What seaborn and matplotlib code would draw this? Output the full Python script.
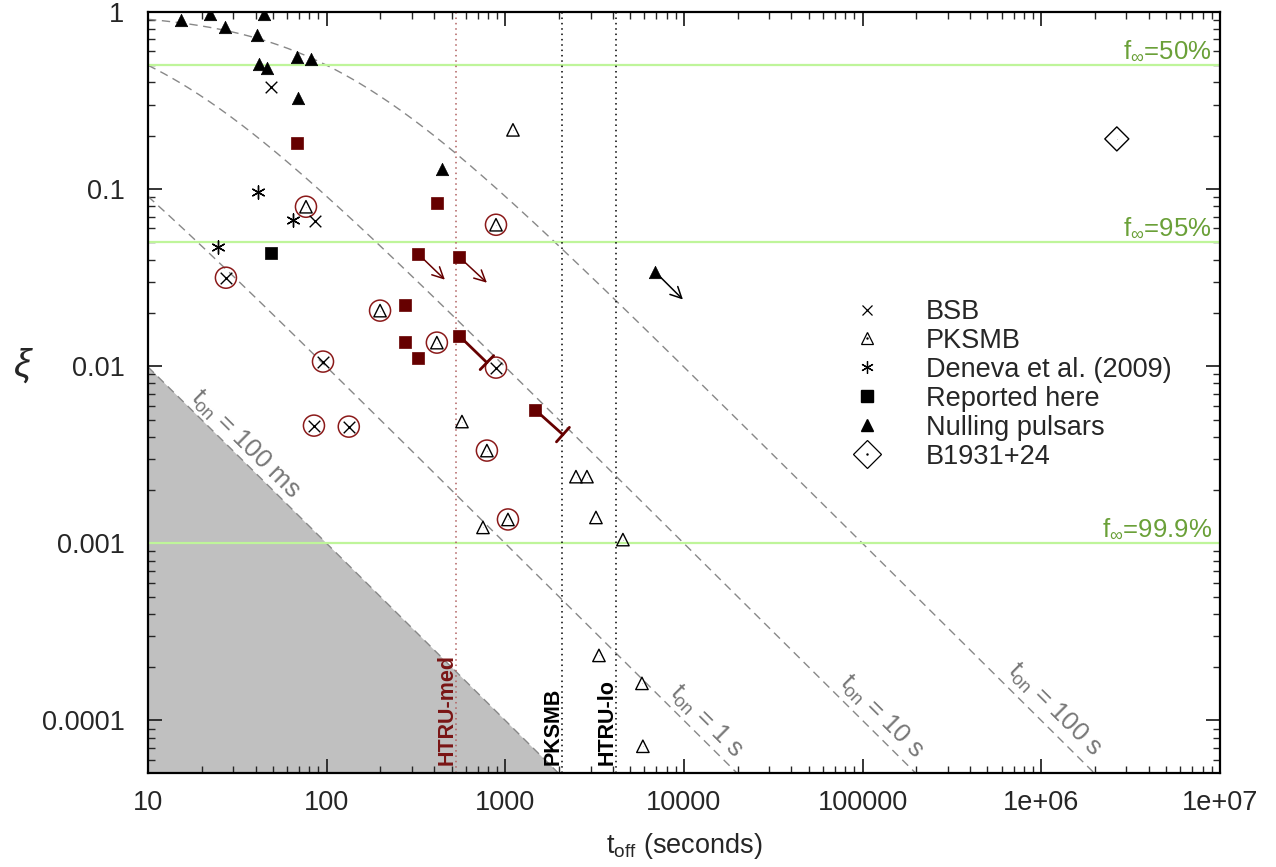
import numpy as np
import pandas as pd
import matplotlib
matplotlib.use("Agg")
import matplotlib.pyplot as plt
import seaborn as sns
from matplotlib.lines import Line2D
from matplotlib.legend_handler import HandlerTuple

# ---------------- data ----------------
null_x = [15.3, 22.2, 27.0, 44.6, 40.7, 41.8, 46.3, 68.2, 81.7, 69.1, 442, 6880]
null_y = [0.901, 0.974, 0.823, 0.974, 0.742, 0.509, 0.483, 0.558, 0.543, 0.327, 0.130, 0.0342]
null_arrow = [(6880, 0.0342, 9870, 0.0238)]

bsb_x = [48.8, 86.0]
bsb_y = [0.378, 0.0663]
bsb_circ_x = [27.3, 95.4, 84.9, 133, 887]
bsb_circ_y = [0.0316, 0.01062, 0.00462, 0.00456, 0.00982]

deneva_x = [41.3, 64.8, 24.7]
deneva_y = [0.0966, 0.0671, 0.0473]

rep_black_x = [48.8]
rep_black_y = [0.0437]
rep_red_x = [68.2, 414, 324, 550, 274, 274, 324, 550, 1466]
rep_red_y = [0.1825, 0.0837, 0.0432, 0.0415, 0.02226, 0.01377, 0.01118, 0.0149, 0.00569]
rep_arrows = [(324, 0.0432, 459, 0.0308), (550, 0.0415, 789, 0.0296)]
rep_bars = [(550, 0.0149, 789, 0.01048), (1466, 0.00569, 2102, 0.00411)]

pks_x = [1104, 572, 750, 2486, 2865, 3217, 4555, 3344, 5820, 5890]
pks_y = [0.216, 0.00487, 0.00123, 0.00238, 0.00238, 0.0014, 0.00105, 0.000233, 0.000162, 7.15e-5]
pks_circ_x = [76.6, 887, 199, 414, 789, 1035]
pks_circ_y = [0.0795, 0.0629, 0.0206, 0.01359, 0.00334, 0.001364]

b1931_x = [2.65e6]
b1931_y = [0.192]

t_on_values = [0.1, 1.0, 10.0, 100.0]
t_on_labels = ["100 ms", "1 s", "10 s", "100 s"]
t_on_label_pos = [(34.9, 0.00361), (13280, 9.9e-5), (128000, 1.056e-4), (1.19e6, 1.156e-4)]

f_levels = [0.5, 0.05, 0.001]
f_labels = ["50%", "95%", "99.9%"]

surveys = ["HTRU-med", "PKSMB", "HTRU-lo"]
survey_t = [527, 2068, 4145]
survey_colors = ["#7a1414", "black", "black"]

xticks = [10, 100, 1000, 1e4, 1e5, 1e6, 1e7]
xticklabels = ["10", "100", "1000", "10000", "100000", "1e+06", "1e+07"]
yticks = [1e-4, 1e-3, 1e-2, 1e-1, 1]
yticklabels = ["0.0001", "0.001", "0.01", "0.1", "1"]

legend_labels = ["BSB", "PKSMB", "Deneva et al. (2009)", "Reported here",
                 "Nulling pulsars", "B1931+24"]

# ---------------- style ----------------
sns.set_style("ticks")
plt.rcParams["font.family"] = ["Liberation Sans", "DejaVu Sans"]
plt.rcParams["mathtext.fontset"] = "custom"
plt.rcParams["mathtext.rm"] = "Liberation Sans"
plt.rcParams["mathtext.it"] = "Liberation Sans:italic"
plt.rcParams["mathtext.bf"] = "Liberation Sans:bold"

DARKRED = "#660000"
CIRC = "#8b1a1a"
GREEN_LINE = "#bff59a"
GREEN_TXT = "#6aa038"
GRAY = "#777777"
FS = 19.5

fig = plt.figure(figsize=(12.76, 8.67), dpi=100)
ax = fig.add_axes([0.116, 0.1084, 0.840, 0.8778])
ax.set_xscale("log")
ax.set_yscale("log")
ax.set_xlim(10, 1e7)
ax.set_ylim(5.05e-5, 1)

# model curves xi = t_on / (t_on + t_off)
tt = np.logspace(1, 7, 400)
for k, ton in enumerate(t_on_values):
    xi = ton / (ton + tt)
    if k == 0:
        ax.fill_between(tt, 1e-6, xi, color="#c0c0c0", lw=0, zorder=0)
    ax.plot(tt, xi, ls=(0, (6, 4)), color="#888888", lw=1.0, zorder=1)

for (lx, ly), lab in zip(t_on_label_pos, t_on_labels):
    ax.text(lx, ly, r"t$_{\mathrm{on}}$ = " + lab, rotation=-44.8,
            rotation_mode="anchor", ha="center", va="center",
            color=GRAY, fontsize=18.5, zorder=2)

# f_inf lines
for lvl, lab in zip(f_levels, f_labels):
    ax.axhline(lvl, color=GREEN_LINE, lw=1.6, zorder=1)
    ax.annotate(r"f$_{\infty}$=" + lab, xy=(0.9925, lvl), xycoords=("axes fraction", "data"),
                xytext=(0, 2), textcoords="offset points", ha="right", va="bottom",
                color=GREEN_TXT, fontsize=18.5)

# survey vertical lines
for name, t, c in zip(surveys, survey_t, survey_colors):
    lc = "#b06060" if c != "black" else "black"
    ax.axvline(t, color=lc, ls=(0, (1, 2.5)), lw=1.1, zorder=1)
    ax.annotate(name, xy=(t, 0.0), xycoords=("data", "axes fraction"),
                xytext=(-6, 6), textcoords="offset points", rotation=90,
                ha="center", va="bottom", fontsize=15.5, fontweight="bold", color=c)

# points
sns.scatterplot(x=null_x, y=null_y, marker="^", s=80, color="black",
                edgecolor="black", linewidth=0.5, ax=ax, zorder=4)
sns.scatterplot(x=bsb_x + bsb_circ_x, y=bsb_y + bsb_circ_y, marker="x", s=70,
                color="black", linewidth=1.0, ax=ax, zorder=4)
sns.scatterplot(x=deneva_x, y=deneva_y, marker=(6, 2, 0), s=90,
                color="black", linewidth=1.0, ax=ax, zorder=4)
sns.scatterplot(x=rep_black_x, y=rep_black_y, marker="s", s=75, color="black",
                edgecolor="black", linewidth=0.5, ax=ax, zorder=4)
sns.scatterplot(x=rep_red_x, y=rep_red_y, marker="s", s=75, color=DARKRED,
                edgecolor=DARKRED, linewidth=0.5, ax=ax, zorder=4)
all_pks_x = pks_x + pks_circ_x
all_pks_y = pks_y + pks_circ_y
sns.scatterplot(x=all_pks_x, y=all_pks_y, marker="^", s=80, facecolor="none",
                edgecolor="black", linewidth=1.0, ax=ax, zorder=4)
sns.scatterplot(x=all_pks_x, y=all_pks_y, marker=".", s=2, color="black",
                linewidth=0, ax=ax, zorder=5)
sns.scatterplot(x=bsb_circ_x + pks_circ_x, y=bsb_circ_y + pks_circ_y, marker="o",
                s=230, facecolor="none", edgecolor=CIRC, linewidth=1.1, ax=ax, zorder=3)
sns.scatterplot(x=b1931_x, y=b1931_y, marker="D", s=150, facecolor="none",
                edgecolor="black", linewidth=1.0, ax=ax, zorder=4)
sns.scatterplot(x=b1931_x, y=b1931_y, marker=".", s=2, color="black",
                linewidth=0, ax=ax, zorder=5)

for x0, y0, x1, y1 in null_arrow:
    ax.annotate("", xy=(x1, y1), xytext=(x0, y0),
                arrowprops=dict(arrowstyle="->", color="black", lw=1.1,
                                shrinkA=0, shrinkB=0, mutation_scale=20), zorder=3)
for x0, y0, x1, y1 in rep_arrows:
    ax.annotate("", xy=(x1, y1), xytext=(x0, y0),
                arrowprops=dict(arrowstyle="->", color=DARKRED, lw=1.1,
                                shrinkA=0, shrinkB=0, mutation_scale=20), zorder=3)
for x0, y0, x1, y1 in rep_bars:
    ax.annotate("", xy=(x1, y1), xytext=(x0, y0),
                arrowprops=dict(arrowstyle="-[, widthB=0.35, lengthB=0", color=DARKRED,
                                lw=2.0, shrinkA=0, shrinkB=0, mutation_scale=20), zorder=3)

# axes cosmetics
ax.set_xticks(xticks)
ax.set_xticklabels(xticklabels)
ax.set_yticks(yticks)
ax.set_yticklabels(yticklabels)
ax.tick_params(which="both", direction="in", top=True, right=True, labelsize=FS)
ax.tick_params(which="major", length=10, width=1.3)
ax.tick_params(axis="x", which="major", pad=12)
ax.tick_params(axis="y", which="major", pad=17)
ax.tick_params(which="minor", length=5, width=1.0)
for sp in ax.spines.values():
    sp.set_linewidth(1.6)
    sp.set_color("black")
ax.grid(False)

ax.set_xlabel(r"t$_{\mathrm{off}}$ (seconds)", fontsize=FS, labelpad=11)
fig.text(0.018, 0.578, r"$\xi$", fontsize=28, ha="center", va="center",
         family="DejaVu Serif")

# legend
h_bsb = Line2D([], [], ls="none", marker="x", ms=7, mew=0.9, color="black")
h_pks = (Line2D([], [], ls="none", marker="^", ms=8, mfc="none", mec="black", mew=0.9),
         Line2D([], [], ls="none", marker=".", ms=1.5, color="black"))
h_den = Line2D([], [], ls="none", marker=(6, 2, 0), ms=9, mew=0.9, color="black")
h_rep = Line2D([], [], ls="none", marker="s", ms=8, color="black")
h_nul = Line2D([], [], ls="none", marker="^", ms=8.5, color="black")
h_b19 = (Line2D([], [], ls="none", marker="D", ms=14, mfc="none", mec="black", mew=0.9),
         Line2D([], [], ls="none", marker=".", ms=1.5, color="black"))
leg = ax.legend([h_bsb, h_pks, h_den, h_rep, h_nul, h_b19], legend_labels,
                handler_map={tuple: HandlerTuple(ndivide=1, pad=0)},
                loc="upper left", bbox_to_anchor=(846.7 / 1276, 1 - 299 / 867),
                bbox_transform=fig.transFigure, frameon=False, fontsize=FS,
                borderpad=0, borderaxespad=0, handlelength=1.5,
                handletextpad=1.43, labelspacing=0.11)

fig.savefig("out.png", dpi=100)
